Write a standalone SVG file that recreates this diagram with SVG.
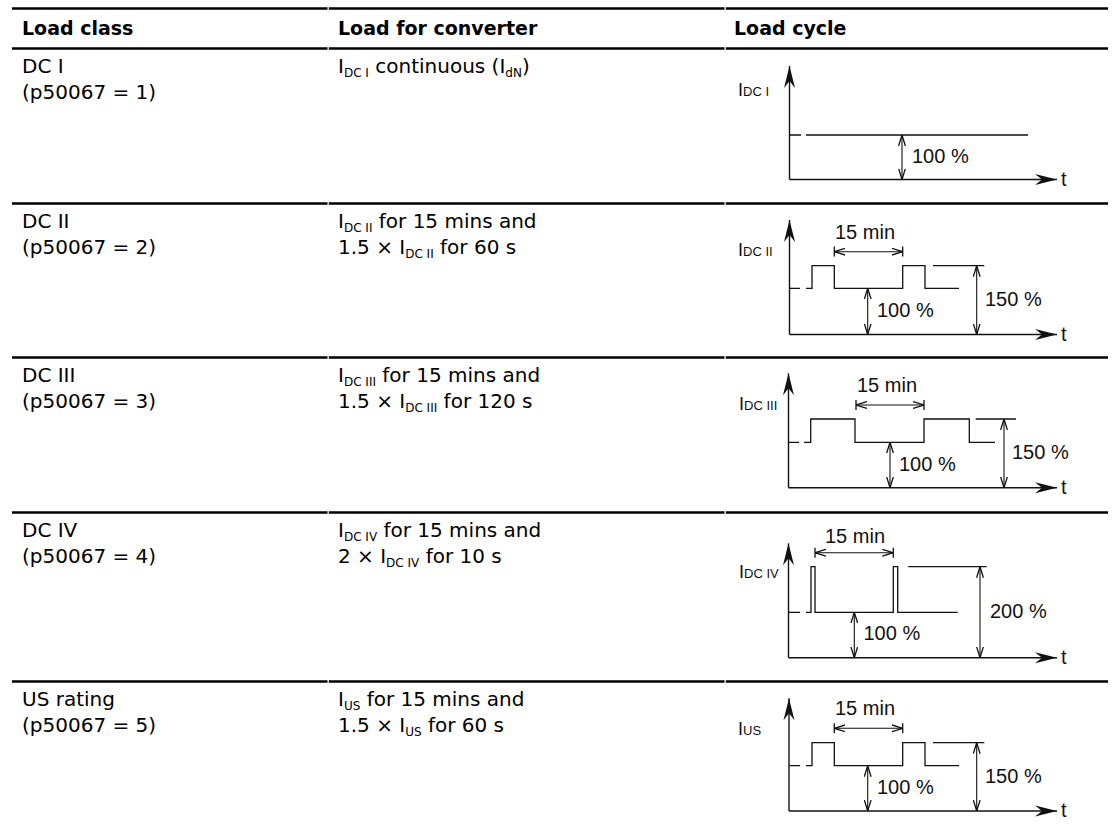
<svg xmlns="http://www.w3.org/2000/svg" width="1112" height="830" viewBox="0 0 1112 830">
<defs>
<style>
.hdr{font-family:"DejaVu Sans","Open Sans",sans-serif;font-weight:bold;font-size:19px;fill:#000}
.txt{font-family:"DejaVu Sans","Open Sans",sans-serif;font-size:20px;fill:#000}
.sub{font-size:12px}
.ch{font-family:"Liberation Sans",Arial,sans-serif;font-size:20px;fill:#111}
.lb{font-family:"Liberation Sans",Arial,sans-serif;font-size:18px;fill:#111}
.lbs{font-size:13px}
.rule{stroke:#000;stroke-width:2.6;fill:none}
.ln{stroke:#111;stroke-width:1.3;fill:none}
.ax{stroke:#111;stroke-width:1.4;fill:none;marker-end:url(#axh)}
.dim{stroke:#111;stroke-width:1.1;fill:none;marker-start:url(#dh);marker-end:url(#dh)}
</style>
<marker id="axh" viewBox="0 0 22 12" refX="22" refY="6" markerWidth="22" markerHeight="12" markerUnits="userSpaceOnUse" orient="auto">
<path d="M22,6 L0,0.5 L7,6 L0,11.5 Z" fill="#111"/>
</marker>
<marker id="dh" viewBox="0 0 11 8" refX="11" refY="4" markerWidth="11" markerHeight="8" markerUnits="userSpaceOnUse" orient="auto-start-reverse">
<path d="M0,0.6 L11,4 L0,7.4" fill="none" stroke="#111" stroke-width="1.3"/>
</marker>
</defs>
<rect width="1112" height="830" fill="#fff"/>

<g id="rules">
<path class="rule" d="M12,8.5 H327.5 M328.8,8.5 H724.5 M725.8,8.5 H1108"/>
<path class="rule" d="M12,48.5 H327.5 M328.8,48.5 H724.5 M725.8,48.5 H1108"/>
<path class="rule" d="M12,203.5 H327.5 M328.8,203.5 H724.5 M725.8,203.5 H1108"/>
<path class="rule" d="M12,357.5 H327.5 M328.8,357.5 H724.5 M725.8,357.5 H1108"/>
<path class="rule" d="M12,512.5 H327.5 M328.8,512.5 H724.5 M725.8,512.5 H1108"/>
<path class="rule" d="M12,681.5 H327.5 M328.8,681.5 H724.5 M725.8,681.5 H1108"/>
</g>

<g id="header">
<text class="hdr" x="22" y="35">Load class</text>
<text class="hdr" x="338" y="35">Load for converter</text>
<text class="hdr" x="734" y="35">Load cycle</text>
</g>

<g id="row1">
<text class="txt" x="22" y="73">DC I</text>
<text class="txt" x="22" y="99">(p50067 = 1)</text>
<text class="txt" x="338" y="73">I<tspan class="sub" dy="4">DC I</tspan><tspan dy="-4"> continuous (I</tspan><tspan class="sub" dy="4">dN</tspan><tspan dy="-4">)</tspan></text>
</g>
<g id="chart1">
<path class="ax" d="M789.5,179.5 V66"/>
<path class="ax" d="M789.5,179.5 H1057"/>
<text class="ch" x="1061" y="186">t</text>
<text class="lb" x="738" y="96">I<tspan class="lbs">DC I</tspan></text>
<path class="ln" d="M790,135 H801 M806,135 H1028"/>
<path class="dim" d="M902,135 V179.5"/>
<text class="ch" x="912" y="163">100 %</text>
</g>

<g id="row2">
<text class="txt" x="22" y="228">DC II</text>
<text class="txt" x="22" y="254">(p50067 = 2)</text>
<text class="txt" x="338" y="228">I<tspan class="sub" dy="4">DC II</tspan><tspan dy="-4"> for 15 mins and</tspan></text>
<text class="txt" x="338" y="254">1.5 × I<tspan class="sub" dy="4">DC II</tspan><tspan dy="-4"> for 60 s</tspan></text>
</g>
<g id="chart2">
<path class="ax" d="M789.5,334.5 V220"/>
<path class="ax" d="M789.5,334.5 H1057"/>
<text class="ch" x="1061" y="341">t</text>
<text class="lb" x="738" y="256">I<tspan class="lbs">DC II</tspan></text>
<text class="ch" x="835" y="239">15 min</text>
<path class="ln" d="M834.3,246.5 V256.5 M902.7,246.5 V256.5"/>
<path class="dim" d="M834.3,251.7 H902.7"/>
<path class="ln" d="M790,288.3 H800 M806,288.3 H812 V265.7 H834.3 V288.3 H902.7 V265.7 H925 V288.3 H959"/>
<path class="ln" d="M933,265.7 H984.3"/>
<path class="dim" d="M867.7,288.3 V334.5"/>
<text class="ch" x="877" y="317">100 %</text>
<path class="dim" d="M976.7,265.7 V334.5"/>
<text class="ch" x="985" y="306">150 %</text>
</g>

<g id="row3">
<text class="txt" x="22" y="382">DC III</text>
<text class="txt" x="22" y="408">(p50067 = 3)</text>
<text class="txt" x="338" y="382">I<tspan class="sub" dy="4">DC III</tspan><tspan dy="-4"> for 15 mins and</tspan></text>
<text class="txt" x="338" y="408">1.5 × I<tspan class="sub" dy="4">DC III</tspan><tspan dy="-4"> for 120 s</tspan></text>
</g>
<g id="chart3">
<path class="ax" d="M788.5,487.7 V373.3"/>
<path class="ax" d="M788.5,487.7 H1057"/>
<text class="ch" x="1061" y="494">t</text>
<text class="lb" x="739" y="410">I<tspan class="lbs">DC III</tspan></text>
<text class="ch" x="857" y="392">15 min</text>
<path class="ln" d="M856,400 V410 M924,400 V410"/>
<path class="dim" d="M856,405 H924"/>
<path class="ln" d="M789,442.3 H799 M804,442.3 H810.7 V419 H855 V442.3 H924 V419 H969.3 V442.3 H995"/>
<path class="ln" d="M975.7,419 H1016"/>
<path class="dim" d="M890,442.3 V487.7"/>
<text class="ch" x="899" y="471">100 %</text>
<path class="dim" d="M1004,419 V487.7"/>
<text class="ch" x="1012" y="458.5">150 %</text>
</g>

<g id="row4">
<text class="txt" x="22" y="537">DC IV</text>
<text class="txt" x="22" y="563">(p50067 = 4)</text>
<text class="txt" x="338" y="537">I<tspan class="sub" dy="4">DC IV</tspan><tspan dy="-4"> for 15 mins and</tspan></text>
<text class="txt" x="338" y="563">2 × I<tspan class="sub" dy="4">DC IV</tspan><tspan dy="-4"> for 10 s</tspan></text>
</g>
<g id="chart4">
<path class="ax" d="M788.5,657.7 V543.3"/>
<path class="ax" d="M788.5,657.7 H1057"/>
<text class="ch" x="1061" y="664">t</text>
<text class="lb" x="739" y="577.5">I<tspan class="lbs">DC IV</tspan></text>
<text class="ch" x="825" y="543">15 min</text>
<path class="ln" d="M815,547.7 V557.7 M893.3,547.7 V557.7"/>
<path class="dim" d="M815,552.7 H893.3"/>
<path class="ln" d="M789,612.3 H800 M806,612.3 H811 V566.7 H815 V612.3 H893.3 V566.7 H897.7 V612.3 H957.7"/>
<path class="ln" d="M908.3,566.7 H986.7"/>
<path class="dim" d="M854.3,612.3 V657.7"/>
<text class="ch" x="863.5" y="640">100 %</text>
<path class="dim" d="M980,566.7 V657.7"/>
<text class="ch" x="990" y="617.5">200 %</text>
</g>

<g id="row5">
<text class="txt" x="22" y="706">US rating</text>
<text class="txt" x="22" y="732">(p50067 = 5)</text>
<text class="txt" x="338" y="706">I<tspan class="sub" dy="4">US</tspan><tspan dy="-4"> for 15 mins and</tspan></text>
<text class="txt" x="338" y="732">1.5 × I<tspan class="sub" dy="4">US</tspan><tspan dy="-4"> for 60 s</tspan></text>
</g>
<g id="chart5">
<path class="ax" d="M789,811 V698.3"/>
<path class="ax" d="M789,811 H1057"/>
<text class="ch" x="1061" y="817">t</text>
<text class="lb" x="738" y="735">I<tspan class="lbs">US</tspan></text>
<text class="ch" x="835" y="715">15 min</text>
<path class="ln" d="M834.3,723.3 V733.3 M902.7,723.3 V733.3"/>
<path class="dim" d="M834.3,728.3 H902.7"/>
<path class="ln" d="M789.5,765.7 H800 M806,765.7 H812 V742.7 H834.3 V765.7 H902.7 V742.7 H925 V765.7 H959"/>
<path class="ln" d="M933,742.7 H984.3"/>
<path class="dim" d="M867.7,765.7 V811"/>
<text class="ch" x="877" y="794">100 %</text>
<path class="dim" d="M976.7,742.7 V811"/>
<text class="ch" x="985" y="782.5">150 %</text>
</g>
</svg>
